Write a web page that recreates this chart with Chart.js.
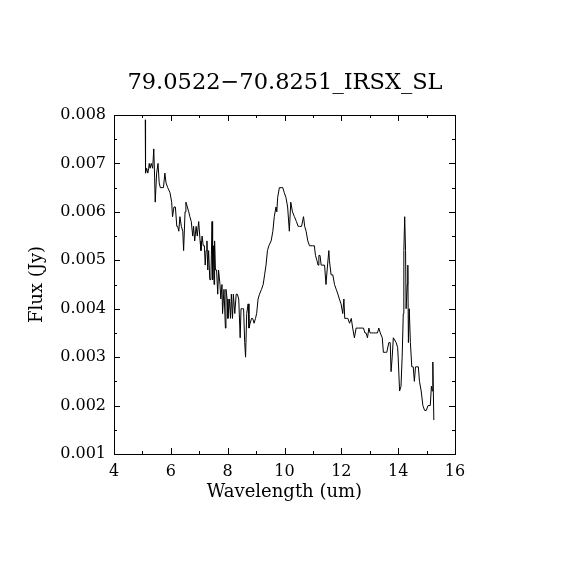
<!DOCTYPE html>
<html>
<head>
<meta charset="utf-8">
<script src="https://cdn.jsdelivr.net/npm/chart.js@4"></script>
<style>
  html, body { margin: 0; padding: 0; background: #fff; }
  #plot { display: block; }
</style>
</head>
<body>
<canvas id="plot" width="570" height="570"></canvas>
<script>
// spectrum: wavelength (um) and flux (Jy)
var wavelength = [
  5.10, 5.11, 5.15, 5.19, 5.22, 5.24, 5.27, 5.31, 5.36, 5.40, 5.43, 5.45, 5.50, 5.55, 5.59, 5.63,
  5.69, 5.74, 5.79, 5.83, 5.89, 5.97, 6.03, 6.06, 6.11, 6.16, 6.21, 6.24, 6.28, 6.32, 6.37, 6.42,
  6.45, 6.50, 6.53, 6.58, 6.63, 6.67, 6.72, 6.77, 6.80, 6.84, 6.89, 6.93, 6.98, 7.03, 7.06, 7.10,
  7.14, 7.18, 7.21, 7.24, 7.27, 7.30, 7.33, 7.37, 7.41, 7.45, 7.47, 7.50, 7.52, 7.54, 7.57, 7.61,
  7.65, 7.68, 7.73, 7.76, 7.80, 7.82, 7.87, 7.92, 7.94, 7.98, 8.01, 8.06, 8.10, 8.13, 8.17, 8.20,
  8.25, 8.30, 8.34, 8.39, 8.44, 8.47, 8.52, 8.56, 8.60, 8.63, 8.67, 8.72, 8.75, 8.79, 8.84, 8.88,
  8.93, 8.98, 9.02, 9.07, 9.12, 9.19, 9.25, 9.30, 9.35, 9.40, 9.45, 9.53, 9.59, 9.64, 9.70, 9.73,
  9.76, 9.82, 9.94, 9.99, 10.05, 10.11, 10.17, 10.22, 10.28, 10.35, 10.42, 10.48, 10.53, 10.60, 10.67, 10.71,
  10.76, 10.82, 10.88, 10.93, 10.99, 11.05, 11.09, 11.14, 11.18, 11.21, 11.25, 11.29, 11.35, 11.41, 11.46, 11.50,
  11.56, 11.58, 11.64, 11.70, 11.76, 11.82, 11.88, 11.93, 11.99, 12.05, 12.09, 12.12, 12.17, 12.23, 12.29, 12.35,
  12.40, 12.46, 12.52, 12.61, 12.70, 12.78, 12.83, 12.87, 12.92, 12.97, 13.01, 13.06, 13.13, 13.20, 13.27, 13.32,
  13.37, 13.44, 13.48, 13.55, 13.60, 13.67, 13.72, 13.75, 13.79, 13.83, 13.93, 13.98, 14.00, 14.05, 14.10, 14.14,
  14.18, 14.20, 14.23, 14.26, 14.28, 14.32, 14.34, 14.36, 14.39, 14.43, 14.48, 14.53, 14.57, 14.61, 14.66, 14.71,
  14.75, 14.81, 14.87, 14.93, 14.99, 15.05, 15.13, 15.17, 15.20, 15.22, 15.255
];
var flux = [
  0.0079, 0.0068, 0.0069, 0.0068, 0.0069, 0.0070, 0.0069, 0.0070, 0.0069, 0.0073, 0.0067, 0.0062, 0.0068, 0.0070, 0.0066, 0.0065,
  0.0065, 0.0065, 0.0068, 0.0066, 0.0065, 0.0064, 0.0062, 0.0059, 0.0061, 0.0061, 0.0057, 0.0057, 0.0056, 0.0059, 0.0057, 0.0056,
  0.0052, 0.0060, 0.0062, 0.0061, 0.0060, 0.0059, 0.0058, 0.0055, 0.0057, 0.0054, 0.0057, 0.0055, 0.0058, 0.0054, 0.0052, 0.0055,
  0.0053, 0.0053, 0.0049, 0.0052, 0.0054, 0.0048, 0.0052, 0.0046, 0.0046, 0.0058, 0.0046, 0.0053, 0.0045, 0.0054, 0.0048, 0.0048,
  0.0043, 0.0048, 0.0045, 0.0042, 0.0045, 0.0039, 0.0044, 0.0036, 0.0044, 0.0042, 0.0038, 0.0042, 0.0038, 0.0043, 0.0038, 0.0043,
  0.0039, 0.0043, 0.0043, 0.0042, 0.0034, 0.0040, 0.0040, 0.0040, 0.0033, 0.0030, 0.0039, 0.0041, 0.0036, 0.0037, 0.0038, 0.0038,
  0.0037, 0.0038, 0.0039, 0.0042, 0.0043, 0.0044, 0.0045, 0.0047, 0.0049, 0.0052, 0.0053, 0.0054, 0.0056, 0.0059, 0.0061, 0.0060,
  0.0063, 0.0065, 0.0065, 0.0064, 0.0063, 0.0061, 0.0056, 0.0062, 0.0060, 0.0059, 0.0058, 0.0057, 0.0057, 0.0057, 0.0059, 0.0057,
  0.0056, 0.0054, 0.0053, 0.0053, 0.0053, 0.0053, 0.0051, 0.0050, 0.0049, 0.0051, 0.0051, 0.0049, 0.0049, 0.0049, 0.0045, 0.0048,
  0.0052, 0.0050, 0.0047, 0.0047, 0.0045, 0.0044, 0.0043, 0.0042, 0.0041, 0.0039, 0.0042, 0.0038, 0.0038, 0.0038, 0.0037, 0.0038,
  0.0036, 0.0034, 0.0036, 0.0036, 0.0036, 0.0036, 0.0035, 0.0035, 0.0034, 0.0036, 0.0035, 0.0035, 0.0035, 0.0035, 0.0035, 0.0036,
  0.0035, 0.0034, 0.0031, 0.0031, 0.0031, 0.0033, 0.0033, 0.0027, 0.0030, 0.0034, 0.0033, 0.0032, 0.0030, 0.0023, 0.0024, 0.0030,
  0.0039, 0.0052, 0.0059, 0.0052, 0.0040, 0.0045, 0.0049, 0.0033, 0.0040, 0.0033, 0.0028, 0.0028, 0.0025, 0.0028, 0.0028, 0.0028,
  0.0025, 0.0023, 0.0020, 0.0019, 0.0019, 0.0020, 0.0020, 0.0024, 0.0023, 0.0029, 0.0017
];

var xTicks = [4, 6, 8, 10, 12, 14, 16];
var yTicks = [0.001, 0.002, 0.003, 0.004, 0.005, 0.006, 0.007, 0.008];

var points = wavelength.map(function (w, i) {
  return { x: w, y: flux[i] };
});

// inward tick marks on all four sides, IDL style
var frameTicks = {
  id: 'frameTicks',
  afterDraw: function (chart) {
    let ctx = chart.ctx;
    let a = chart.chartArea;
    let xs = chart.scales.x;
    let ys = chart.scales.y;
    ctx.save();
    ctx.strokeStyle = '#000';
    ctx.lineWidth = 1;
    ctx.strokeRect(Math.round(a.left) + 0.5, Math.round(a.top) + 0.5,
                   Math.round(a.right - a.left), Math.round(a.bottom - a.top));
    ctx.beginPath();
    for (let v = 4; v <= 16; v += 1) {
      let px = Math.round(xs.getPixelForValue(v)) + 0.5;
      let len = (v % 2 == 0) ? 6 : 3;
      ctx.moveTo(px, a.bottom); ctx.lineTo(px, a.bottom - len);
      ctx.moveTo(px, a.top); ctx.lineTo(px, a.top + len);
    }
    for (let k = 2; k <= 16; k++) {
      let py = Math.round(ys.getPixelForValue(k * 0.0005)) + 0.5;
      let len = (k % 2 == 0) ? 6 : 3;
      ctx.moveTo(a.left, py); ctx.lineTo(a.left + len, py);
      ctx.moveTo(a.right, py); ctx.lineTo(a.right - len, py);
    }
    ctx.stroke();
    ctx.restore();
  }
};

var serif = 'DejaVu Serif';

new Chart(document.getElementById('plot'), {
  type: 'line',
  data: {
    datasets: [{
      data: points,
      borderColor: '#000',
      borderWidth: 1,
      pointRadius: 0,
      tension: 0,
      fill: false
    }]
  },
  plugins: [frameTicks],
  options: {
    responsive: false,
    animation: false,
    devicePixelRatio: 1,
    layout: { padding: 0 },
    plugins: {
      legend: { display: false },
      tooltip: { enabled: false },
      title: {
        display: true,
        text: '79.0522\u221270.8251_IRSX_SL',
        color: '#000',
        font: { family: serif, size: 22.5, weight: 'normal' },
        padding: { top: 70, bottom: 18 }
      }
    },
    scales: {
      x: {
        type: 'linear',
        min: 4,
        max: 16,
        afterBuildTicks: function (s) { s.ticks = xTicks.map(v => ({ value: v })); },
        afterFit: function (s) { s.height = 116; },
        grid: { display: false, drawTicks: false },
        border: { display: false },
        ticks: {
          color: '#000',
          padding: 8,
          maxRotation: 0,
          font: { family: serif, size: 16 },
          callback: function (v) { return v.toFixed(0); }
        },
        title: {
          display: true,
          text: 'Wavelength (um)',
          color: '#000',
          font: { family: serif, size: 18 },
          padding: { top: 0, bottom: 67 }
        }
      },
      y: {
        type: 'linear',
        min: 0.001,
        max: 0.008,
        afterBuildTicks: function (s) { s.ticks = yTicks.map(v => ({ value: v })); },
        afterFit: function (s) { s.width = 114; },
        grid: { display: false, drawTicks: false },
        border: { display: false },
        ticks: {
          color: '#000',
          padding: 8,
          font: { family: serif, size: 16 },
          callback: function (v) { return v.toFixed(3); }
        },
        title: {
          display: true,
          text: 'Flux (Jy)',
          color: '#000',
          font: { family: serif, size: 18 },
          padding: { top: 27, bottom: 0 }
        }
      },
      // empty right-hand axis that only reserves the margin
      yRight: {
        type: 'linear',
        position: 'right',
        min: 0.001,
        max: 0.008,
        afterFit: function (s) { s.width = 115; },
        grid: { display: false, drawTicks: false },
        border: { display: false },
        ticks: { display: false }
      }
    }
  }
});
</script>
</body>
</html>
